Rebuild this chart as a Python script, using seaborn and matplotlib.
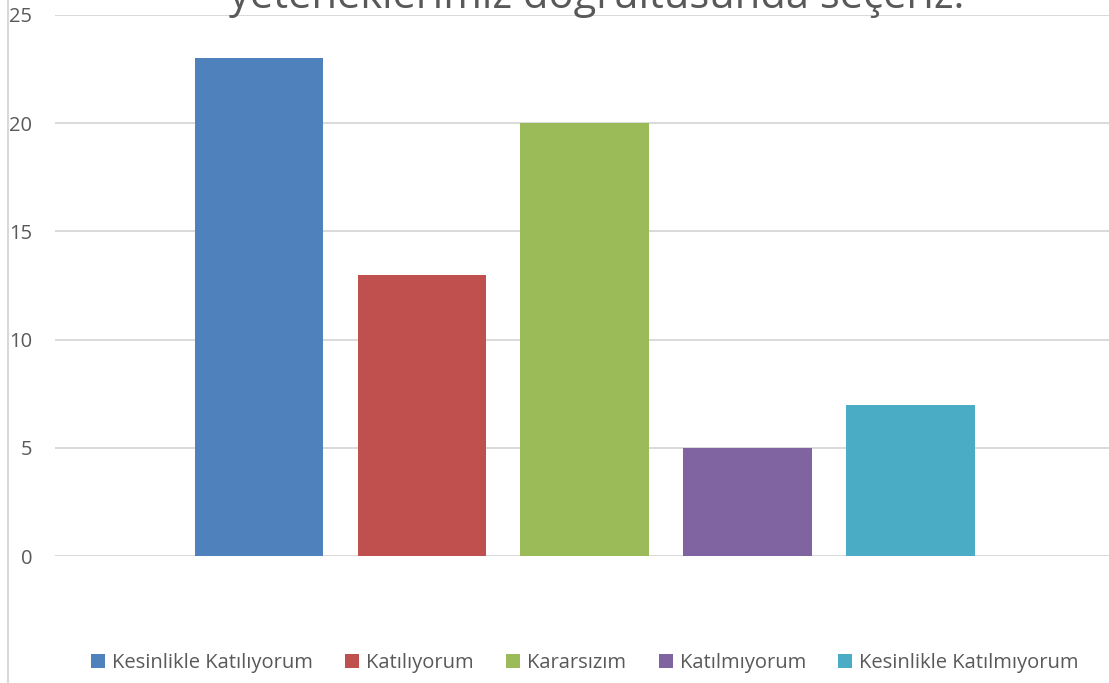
import matplotlib
matplotlib.use("Agg")
import matplotlib.pyplot as plt
import seaborn as sns
import pandas as pd
from matplotlib.patches import Patch
from matplotlib.lines import Line2D

# veriler
labels = ["Kesinlikle Katılıyorum", "Katılıyorum", "Kararsızım",
          "Katılmıyorum", "Kesinlikle Katılmıyorum"]
values = [23, 13, 20, 5, 7]
colors = ["#4F81BD", "#C0504D", "#9BBB59", "#8064A2", "#4BACC6"]
title = "yeteneklerimiz doğrultusunda seçeriz."
yticks = [0, 5, 10, 15, 20, 25]

sns.set_style("white")
plt.rcParams["font.family"] = ["Open Sans", "DejaVu Sans"]

W, H = 1109, 683
fig = plt.figure(figsize=(W / 100, H / 100), dpi=100)
ax = fig.add_axes([55 / W, (H - 556) / H, (1109 - 55) / W, (556 - 15) / H])

df = pd.DataFrame({"cevap": labels, "sayi": values})
sns.barplot(data=df, x="cevap", y="sayi", hue="cevap", order=labels,
            hue_order=labels, palette=colors, width=0.79, dodge=False,
            legend=False, ax=ax, saturation=1, linewidth=0)

ax.set_xlim(-1.252, 5.218)
ax.set_ylim(0, 25)
ax.set_yticks(yticks)
ax.set_xticks([])
ax.set_xlabel("")
ax.set_ylabel("")
ax.yaxis.grid(True, color="#D9D9D9", linewidth=1.4)
ax.set_axisbelow(True)
for s in ax.spines.values():
    s.set_visible(False)
ax.tick_params(axis="y", length=0, pad=16.5, labelsize=14.5, labelcolor="#595959")
ax.patch.set_alpha(0)

# grafik cercevesi (sol kenar)
fig.add_artist(Line2D([8 / W, 8 / W], [0, 1], color="#D9D9D9", linewidth=1.5))

# basligin gorunen kismi
fig.text(597 / W, (H - 8) / H, title, ha="center", va="baseline",
         fontsize=30, color="#595959")

handles = [Patch(facecolor=c, edgecolor="none") for c in colors]
fig.legend(handles, labels, loc="center", bbox_to_anchor=(585 / W, (H - 663) / H),
           ncol=5, frameon=False, fontsize=14.5, labelcolor="#595959",
           handlelength=0.7, handleheight=0.7, handletextpad=0.35,
           columnspacing=1.6)

fig.savefig("out.png", dpi=100)
